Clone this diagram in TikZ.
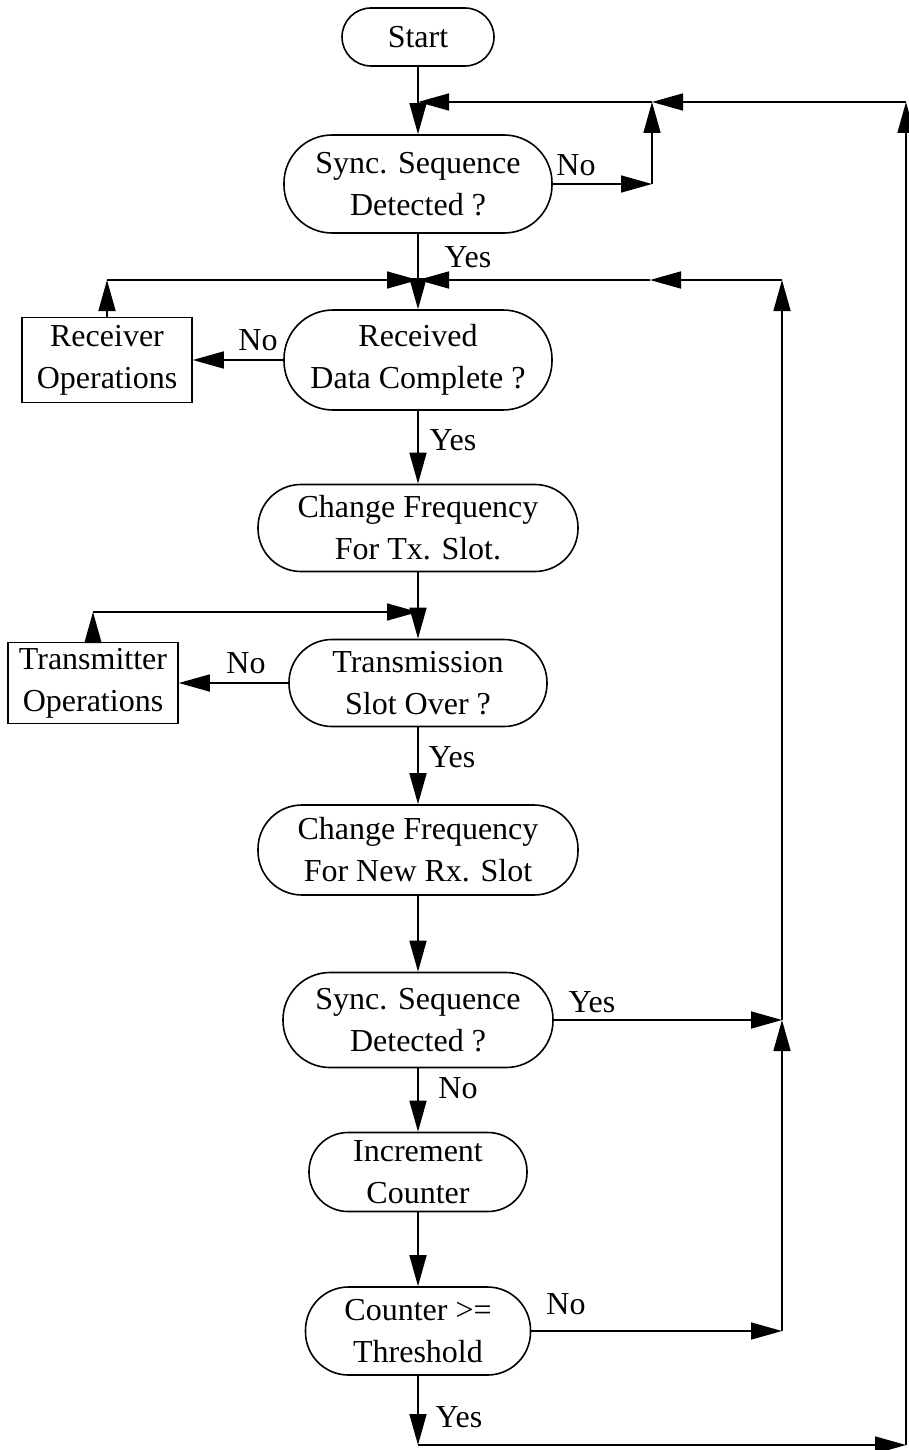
\documentclass[tikz,border=0pt]{standalone}
\usepackage{fontspec}
\setmainfont{Liberation Serif}
\usetikzlibrary{arrows.meta}
\begin{document}
\begin{tikzpicture}[x=1pt,y=-1pt,
  line width=1.6pt,
  every node/.style={font=\fontsize{32}{42}\selectfont, align=center, inner sep=0pt},
  term/.style={draw, rounded corners=#1, line width=1.6pt},
  opbox/.style={draw, rectangle, line width=1.6pt},
  lbl/.style={anchor=center},
  arr/.style={-{Triangle[length=31pt,width=17pt]}}]
  \useasboundingbox[fill=white] (0,0) rectangle (908,1450);

  % process blocks, all on one vertical axis
  \def\cx{418}
  \node[term=29pt, minimum width=152pt, minimum height=58pt] (start) at (\cx,37) {Start};
  \node[term=48pt, minimum width=268pt, minimum height=98pt] (sync1) at (\cx,184) {Sync. Sequence\\Detected ?};
  \node[term=49pt, minimum width=268pt, minimum height=100pt] (recv) at (\cx,360) {Received\\Data Complete ?};
  \node[term=43pt, minimum width=320pt, minimum height=87pt] (chtx) at (\cx,528) {Change Frequency\\For Tx. Slot.};
  \node[term=43pt, minimum width=258pt, minimum height=87pt] (tx) at (\cx,683) {Transmission\\Slot Over ?};
  \node[term=44pt, minimum width=320pt, minimum height=90pt] (chrx) at (\cx,850) {Change Frequency\\For New Rx. Slot};
  \node[term=47pt, minimum width=270pt, minimum height=95pt] (sync2) at (\cx,1020) {Sync. Sequence\\Detected ?};
  \node[term=39pt, minimum width=218pt, minimum height=79pt] (inc) at (\cx,1172) {Increment\\Counter};
  \node[term=43pt, minimum width=225pt, minimum height=88pt] (cnt) at (\cx,1331) {Counter >=\\Threshold};
  \node[opbox, minimum width=170pt, minimum height=85pt] (rxop) at (107,360) {Receiver\\Operations};
  \node[opbox, minimum width=170pt, minimum height=81pt] (txop) at (93,683) {Transmitter\\Operations};

  % junction points
  \coordinate (j1) at (start.south |- 0,102);
  \coordinate (j2) at (652,102);
  \coordinate (n1) at (652,0 |- sync1.east);
  \coordinate (r1) at (906,102);
  \coordinate (r2) at (906,1445);
  \coordinate (j3) at (recv.north |- 0,280);
  \coordinate (rxc) at (rxop.north |- 0,280);
  \coordinate (j4) at (782,280);
  \coordinate (j4m) at (650,280);
  \coordinate (j5) at (tx.north |- 0,612);
  \coordinate (txc) at (txop.north |- 0,612);
  \coordinate (j6) at (782,0 |- sync2.east);
  \coordinate (j7) at (782,0 |- cnt.east);
  \coordinate (j8) at (cnt.south |- 0,1445);

  % main flow
  \draw (start.south) -- (j1);
  \draw[arr] (j1) -- (sync1.north);
  \draw[arr] (sync1.south) -- (recv.north);
  \draw[arr] (recv.south) -- (chtx.north);
  \draw[arr] (chtx.south) -- (tx.north);
  \draw[arr] (tx.south) -- (chrx.north);
  \draw[arr] (chrx.south) -- (sync2.north);
  \draw[arr] (sync2.south) -- (inc.north);
  \draw[arr] (inc.south) -- (cnt.north);

  % no sync: wait loop
  \draw[arr] (sync1.east) -- (n1);
  \draw[arr] (n1) -- (j2);
  \draw[arr] (r1) -- (j2);
  \draw[arr] (j2) -- (j1);

  % receiver loop
  \draw[arr] (recv.west) -- (rxop.east);
  \draw[arr] (rxop.north) -- (rxc);
  \draw[arr] (rxc) -- (j3);

  % transmitter loop
  \draw[arr] (tx.west) -- (txop.east);
  \draw[arr] (txop.north) -- (txc);
  \draw[arr] (txc) -- (j5);

  % resync return path
  \draw[arr] (sync2.east) -- (j6);
  \draw[arr] (cnt.east) -- (j7);
  \draw[arr] (j7) -- (j6);
  \draw[arr] (j6) -- (j4);
  \draw[arr] (j4) -- (j4m);
  \draw[arr] (j4m) -- (j3);

  % threshold reached: back to the start
  \draw[arr] (cnt.south) -- (j8);
  \draw[arr] (j8) -- (r2);
  \draw[arr] (r2) -- (r1);

  % branch labels
  \node[lbl] at (576,165) {No};
  \node[lbl] at (468,257) {Yes};
  \node[lbl] at (258,340) {No};
  \node[lbl] at (453,440) {Yes};
  \node[lbl] at (246,663) {No};
  \node[lbl] at (452,757) {Yes};
  \node[lbl] at (592,1002) {Yes};
  \node[lbl] at (458,1088) {No};
  \node[lbl] at (566,1304) {No};
  \node[lbl] at (459,1417) {Yes};
\end{tikzpicture}
\end{document}
